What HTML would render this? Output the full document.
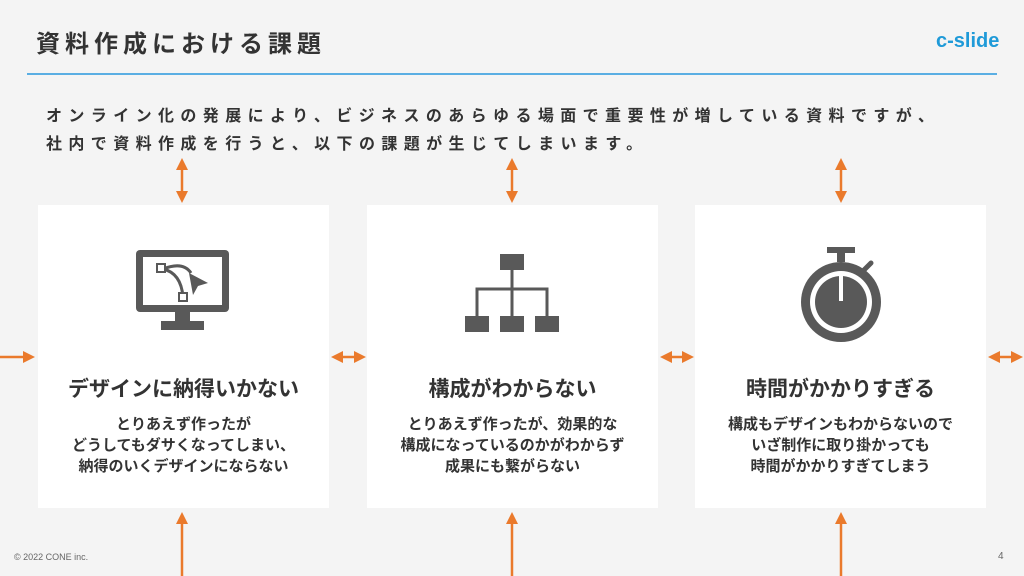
<!DOCTYPE html>
<html><head><meta charset="utf-8"><style>
*{margin:0;padding:0;box-sizing:border-box}
body{width:1024px;height:576px;background:#f4f4f4;position:relative;overflow:hidden;font-family:"Liberation Sans","Noto Sans CJK JP",sans-serif;color:#333}
.t{position:absolute;white-space:nowrap}
.card{position:absolute;top:205px;width:291px;height:303px;background:#fff}
.ct{position:absolute;left:0;width:100%;text-align:center;top:168px;font-size:21px;font-weight:bold;color:#333}
.cd{position:absolute;left:0;width:100%;text-align:center;top:209px;font-size:15px;font-weight:bold;line-height:21px;color:#333}
svg{position:absolute}
</style></head><body>
<div class="t" style="left:36px;top:24px;font-size:24px;font-weight:bold;letter-spacing:5px;color:#333">資料作成における課題</div>
<div class="t" style="left:936px;top:30px;font-size:20px;font-weight:bold;color:#1f9ad8">c-slide</div>
<div style="position:absolute;left:27px;top:73px;width:970px;height:2px;background:#5aaee3"></div>
<div class="t" style="left:46px;top:103px;font-size:16px;font-weight:bold;letter-spacing:6.4px;line-height:28px;color:#333">オンライン化の発展により、ビジネスのあらゆる場面で重要性が増している資料ですが、<br>社内で資料作成を行うと、以下の課題が生じてしまいます。</div>

<div class="card" style="left:38px">
<svg style="left:97px;top:44px" width="96" height="84" viewBox="0 0 96 84">
<rect x="1" y="1" width="93" height="62" rx="4" fill="#595959"/>
<rect x="8" y="8" width="79" height="48" fill="#fff"/>
<rect x="40" y="63" width="15" height="10" fill="#595959"/>
<rect x="26" y="72" width="43" height="9" fill="#595959"/>
<path d="M28 20 Q48 12 56 24 M28 20 Q46 24 48 48" stroke="#595959" stroke-width="3" fill="none"/>
<rect x="22" y="15" width="8" height="8" fill="#fff" stroke="#595959" stroke-width="2"/>
<rect x="44" y="44" width="8" height="8" fill="#fff" stroke="#595959" stroke-width="2"/>
<path d="M54 24 L73 34 L63 37 L58 46 Z" fill="#595959"/>
</svg>
<div class="ct">デザインに納得いかない</div>
<div class="cd">とりあえず作ったが<br>どうしてもダサくなってしまい、<br>納得のいくデザインにならない</div>
</div>

<div class="card" style="left:367px">
<svg style="left:98px;top:48px" width="95" height="80" viewBox="0 0 95 80">
<rect x="35" y="1" width="24" height="16" fill="#595959"/>
<path d="M47 17 V48 M12 64 V36 H82 V64 M47 36 V64" stroke="#595959" stroke-width="3" fill="none"/>
<rect x="0" y="63" width="24" height="16" fill="#595959"/>
<rect x="35" y="63" width="24" height="16" fill="#595959"/>
<rect x="70" y="63" width="24" height="16" fill="#595959"/>
</svg>
<div class="ct">構成がわからない</div>
<div class="cd">とりあえず作ったが、効果的な<br>構成になっているのかがわからず<br>成果にも繋がらない</div>
</div>

<div class="card" style="left:695px">
<svg style="left:104px;top:42px" width="84" height="96" viewBox="0 0 84 96">
<rect x="28" y="0" width="28" height="6" fill="#595959"/>
<rect x="38" y="5" width="8" height="10" fill="#595959"/>
<line x1="64" y1="24" x2="72" y2="16" stroke="#595959" stroke-width="5" stroke-linecap="round"/>
<circle cx="42" cy="55" r="40" fill="#595959"/>
<circle cx="42" cy="55" r="31" fill="#fff"/>
<circle cx="42" cy="55" r="26" fill="#595959"/>
<rect x="40" y="25" width="4" height="29" fill="#fff"/>
</svg>
<div class="ct">時間がかかりすぎる</div>
<div class="cd">構成もデザインもわからないので<br>いざ制作に取り掛かっても<br>時間がかかりすぎてしまう</div>
</div>

<svg style="left:0;top:0" width="1024" height="576">
<defs><marker id="a" markerWidth="12" markerHeight="12" refX="8" refY="6" orient="auto-start-reverse" markerUnits="userSpaceOnUse"><path d="M0 0 L12 6 L0 12 Z" fill="#ea7a2c"/></marker></defs>
<g stroke="#ea7a2c" stroke-width="2.5" fill="none">
<line x1="182" y1="162" x2="182" y2="199" marker-start="url(#a)" marker-end="url(#a)"/>
<line x1="512" y1="162" x2="512" y2="199" marker-start="url(#a)" marker-end="url(#a)"/>
<line x1="841" y1="162" x2="841" y2="199" marker-start="url(#a)" marker-end="url(#a)"/>
<line x1="182" y1="516" x2="182" y2="580" marker-start="url(#a)"/>
<line x1="512" y1="516" x2="512" y2="580" marker-start="url(#a)"/>
<line x1="841" y1="516" x2="841" y2="580" marker-start="url(#a)"/>
<line x1="-5" y1="357" x2="31" y2="357" marker-end="url(#a)"/>
<line x1="335" y1="357" x2="362" y2="357" marker-start="url(#a)" marker-end="url(#a)"/>
<line x1="664" y1="357" x2="690" y2="357" marker-start="url(#a)" marker-end="url(#a)"/>
<line x1="992" y1="357" x2="1019" y2="357" marker-start="url(#a)" marker-end="url(#a)"/>
</g></svg>
<div class="t" style="left:14px;top:552px;font-size:9px;color:#666">© 2022 CONE inc.</div>
<div class="t" style="left:998px;top:551px;font-size:10px;color:#666">4</div>
</body></html>
